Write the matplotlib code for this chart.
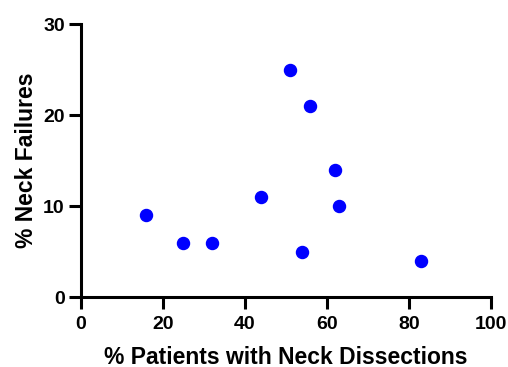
import matplotlib
matplotlib.use("Agg")
import matplotlib.pyplot as plt

x_vals = [16, 25, 32, 44, 51, 54, 56, 62, 63, 83]
y_vals = [9, 6, 6, 11, 25, 5, 21, 14, 10, 4]
x_ticks = [0, 20, 40, 60, 80, 100]
y_ticks = [0, 10, 20, 30]

plt.rcParams['font.family'] = ['Liberation Sans', 'DejaVu Sans']
plt.rcParams['font.weight'] = 'bold'

fig = plt.figure(figsize=(5.08, 3.67), dpi=100)
ax = fig.add_axes([0.159, 0.19, 0.8075, 0.7446])
ax.scatter(x_vals, y_vals, s=75, color='#0000ff', zorder=3, clip_on=False)
ax.set_xlim(0, 100)
ax.set_ylim(0, 30)
ax.set_xticks(x_ticks)
ax.set_yticks(y_ticks)
for s in ['top', 'right']:
    ax.spines[s].set_visible(False)
for s in ['left', 'bottom']:
    ax.spines[s].set_linewidth(2.2)
ax.tick_params(width=2.2, length=8.5, labelsize=14, pad=3)
ax.tick_params(axis='x', pad=5)
for lbl in ax.get_xticklabels() + ax.get_yticklabels():
    lbl.set_fontweight('bold')
ax.set_xlabel('% Patients with Neck Dissections', fontsize=16.5, fontweight='bold', labelpad=9)
ax.set_ylabel('% Neck Failures', fontsize=16.5, fontweight='bold', labelpad=4)
fig.savefig('out.png', dpi=100)
